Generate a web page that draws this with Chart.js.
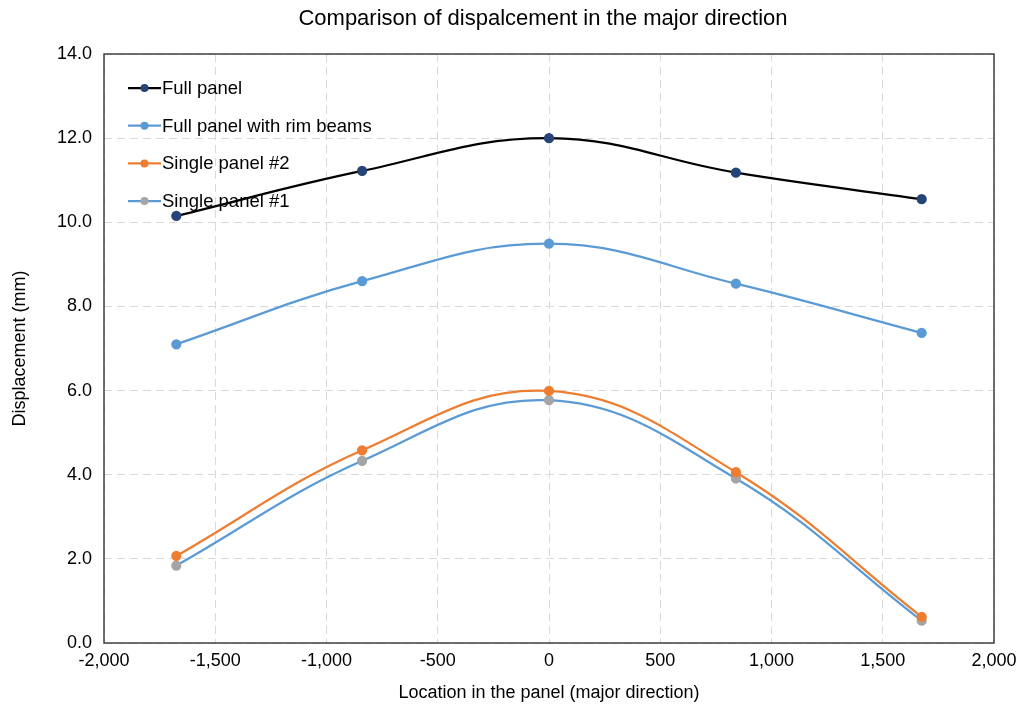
<!DOCTYPE html>
<html>
<head>
<meta charset="utf-8">
<script src="https://cdn.jsdelivr.net/npm/chart.js@4"></script>
<style>
  html, body { margin: 0; padding: 0; background: #fff; }
  #wrap { width: 1021px; height: 706px; }
</style>
</head>
<body>
<div id="wrap"><canvas id="myChart" width="1021" height="706"></canvas></div>
<script>
// data
var chartTitle = 'Comparison of dispalcement in the major direction';
var locations = [-1675, -840, 0, 840, 1675];
var fullPanel = [10.15, 11.22, 12.0, 11.18, 10.55];
var rimBeams = [7.1, 8.6, 9.49, 8.54, 7.37];
var single2 = [2.07, 4.58, 5.99, 4.06, 0.62];
var single1 = [1.84, 4.33, 5.77, 3.91, 0.53];
var xTicks = [-2000, -1500, -1000, -500, 0, 500, 1000, 1500, 2000];
var yTicks = [0, 2, 4, 6, 8, 10, 12, 14];

var FONT = '"Liberation Sans", Arial, sans-serif';

function toPoints(ys) {
    return locations.map((x, i) => ({ x: x, y: ys[i] }));
}

function series(label, ys, lineColor, dotColor) {
    return {
        label: label,
        data: toPoints(ys),
        showLine: true,
        tension: 0.4,
        borderColor: lineColor,
        borderWidth: 2.25,
        backgroundColor: dotColor,
        pointBackgroundColor: dotColor,
        pointBorderColor: dotColor,
        pointRadius: 4,
        pointHoverRadius: 4
    };
}

// title over the plot, frame and legend inside the plot area, Excel style
var excelBits = {
    id: 'excelBits',
    afterDatasetsDraw(chart) {
        var ctx = chart.ctx;
        var area = chart.chartArea;
        ctx.save();
        ctx.strokeStyle = '#404040';
        ctx.lineWidth = 1.5;
        ctx.strokeRect(area.left, area.top, area.right - area.left, area.bottom - area.top);

        ctx.fillStyle = '#000';
        ctx.textAlign = 'center';
        ctx.textBaseline = 'middle';
        ctx.font = '22px ' + FONT;
        ctx.fillText(chartTitle, (area.left + area.right) / 2 - 6, 19);

        ctx.textAlign = 'left';
        ctx.font = '18.5px ' + FONT;
        chart.data.datasets.forEach(function (ds, i) {
            var y = 88 + i * 37.7;
            ctx.strokeStyle = ds.borderColor;
            ctx.lineWidth = 2.25;
            ctx.beginPath();
            ctx.moveTo(128, y);
            ctx.lineTo(161, y);
            ctx.stroke();
            ctx.fillStyle = ds.pointBackgroundColor;
            ctx.beginPath();
            ctx.arc(144.5, y, 4, 0, Math.PI * 2);
            ctx.fill();
            ctx.fillStyle = '#000';
            ctx.fillText(ds.label, 162, y + 1);
        });
        ctx.restore();
    }
};

var ctx = document.getElementById('myChart').getContext('2d');
var chart = new Chart(ctx, {
    type: 'scatter',
    data: {
        datasets: [
            series('Full panel', fullPanel, '#000000', '#264478'),
            series('Full panel with rim beams', rimBeams, '#5B9BD5', '#5B9BD5'),
            series('Single panel #2', single2, '#ED7D31', '#ED7D31'),
            series('Single panel #1', single1, '#5B9BD5', '#A5A5A5')
        ]
    },
    options: {
        responsive: false,
        animation: false,
        layout: { padding: { left: 0, right: 27, top: 54, bottom: 0 } },
        plugins: {
            legend: { display: false },
            tooltip: { enabled: false },
            title: { display: false }
        },
        scales: {
            x: {
                type: 'linear',
                min: -2000,
                max: 2000,
                afterBuildTicks: function (axis) { axis.ticks = xTicks.map(v => ({ value: v })); },
                ticks: {
                    color: '#000',
                    padding: 7,
                    maxRotation: 0,
                    font: { family: FONT, size: 18 },
                    callback: v => v.toLocaleString('en-US')
                },
                grid: { color: '#d9d9d9', drawTicks: false },
                border: { display: false, dash: [8, 5] },
                title: {
                    display: true,
                    text: 'Location in the panel (major direction)',
                    color: '#000',
                    font: { family: FONT, size: 18 },
                    padding: { top: 4, bottom: 2 }
                },
                afterFit: function (axis) {
                    axis.height = 63;
                    axis.paddingLeft = 0;
                    axis.paddingRight = 0;
                }
            },
            y: {
                min: 0,
                max: 14,
                afterBuildTicks: function (axis) { axis.ticks = yTicks.map(v => ({ value: v })); },
                ticks: {
                    color: '#000',
                    padding: 12,
                    font: { family: FONT, size: 18 },
                    callback: v => v.toFixed(1)
                },
                grid: { color: '#d9d9d9', drawTicks: false },
                border: { display: false, dash: [8, 5] },
                title: {
                    display: true,
                    text: 'Displacement (mm)',
                    color: '#000',
                    font: { family: FONT, size: 18 },
                    padding: { top: 9, bottom: 4 }
                },
                afterFit: function (axis) { axis.width = 104; }
            }
        }
    },
    plugins: [excelBits]
});
</script>
</body>
</html>
